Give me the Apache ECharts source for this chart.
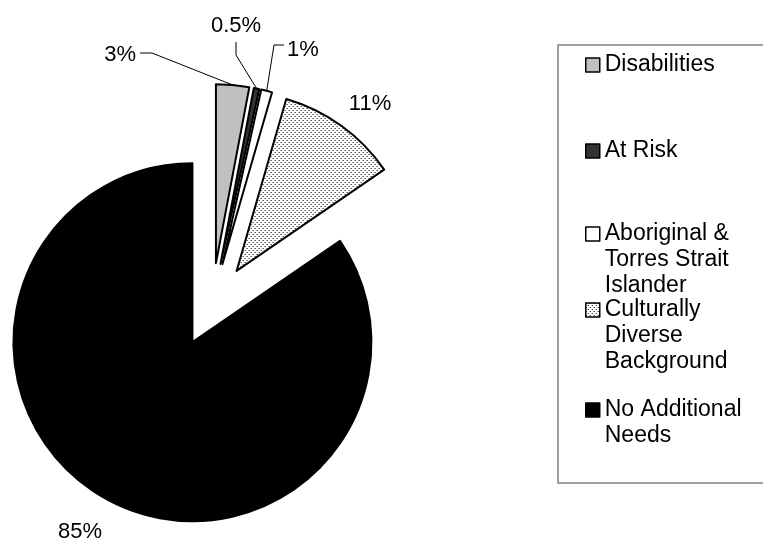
<!DOCTYPE html>
<html>
<head>
<meta charset="utf-8">
<script src="https://cdn.jsdelivr.net/npm/echarts@6/dist/echarts.min.js"></script>
<style>
html,body{margin:0;padding:0;background:#fff;}
#chart{width:763px;height:543px;}
</style>
</head>
<body>
<div id="chart"></div>
<script>
// ---- data ----
const categories = ['Disabilities', 'At Risk', 'Aboriginal & Torres Strait Islander', 'Culturally Diverse Background', 'No Additional Needs'];
const legendLines = [['Disabilities'], ['At Risk'], ['Aboriginal &', 'Torres Strait', 'Islander'], ['Culturally', 'Diverse', 'Background'], ['No Additional', 'Needs']];
const values = [3, 0.5, 1, 11, 85];

// ---- styling / layout ----
function dotPattern() {
  const c = document.createElement('canvas');
  c.width = 4; c.height = 4;
  const g = c.getContext('2d');
  g.fillStyle = '#ffffff'; g.fillRect(0, 0, 4, 4);
  g.fillStyle = '#000000';
  g.fillRect(0, 0, 1, 1); g.fillRect(2, 2, 1, 1);
  return c;
}
const fills = ['#c0c0c0', '#333333', '#ffffff', { image: dotPattern(), repeat: 'repeat' }, '#000000'];
const labelAnchors = [
  { x: 136, y: 55, align: 'right', bend: [152, 53], end: [140, 53] },
  { x: 236, y: 26, align: 'center', bend: [236, 55], end: [236, 42] },
  { x: 287, y: 50, align: 'left', bend: [274, 45], end: [284, 45] },
  { x: 370, y: 104, align: 'center' },
  { x: 80, y: 532, align: 'center' }
];
const legendIconCenters = [65, 151, 234, 310, 410];
const LH = 26;
const FONT = '"Liberation Sans", Arial, sans-serif';
const PIE_CENTER = [212, 305];
const PIE_R = 179;
const EXPLODE = 42;

const chart = echarts.init(document.getElementById('chart'), null, { renderer: 'canvas' });

const pieData = categories.map((name, i) => ({
  name: name,
  value: values[i],
  selected: true,
  itemStyle: { color: fills[i] },
  select: { itemStyle: { color: fills[i], borderColor: '#000', borderWidth: 2 } }
}));

const labelData = categories.map((name, i) => ({
  name: name,
  value: values[i],
  labelLine: { show: !!labelAnchors[i].bend }
}));

const legends = categories.map((name, i) => {
  const n = legendLines[i].length;
  const top = legendIconCenters[i] - (2 * n - 1) * LH / 2;
  return {
    orient: 'vertical',
    left: 585,
    top: top,
    padding: 0,
    itemGap: 0,
    itemWidth: 14,
    itemHeight: 14,
    icon: 'rect',
    selectedMode: false,
    itemStyle: { borderColor: '#000', borderWidth: 1.5 },
    data: [name],
    formatter: function (nm) {
      const lines = legendLines[categories.indexOf(nm)];
      return '\n'.repeat(lines.length - 1) + lines.join('\n');
    },
    textStyle: { fontSize: 23, lineHeight: LH, color: '#000', fontFamily: FONT }
  };
});

chart.setOption({
  animation: false,
  backgroundColor: '#ffffff',
  legend: legends,
  graphic: [{
    type: 'rect',
    shape: { x: 558, y: 45, width: 220, height: 438 },
    style: { fill: 'none', stroke: '#808080', lineWidth: 1.5 },
    silent: true
  }],
  series: [{
    type: 'pie',
    center: PIE_CENTER,
    radius: [0, PIE_R],
    startAngle: 90,
    clockwise: true,
    selectedMode: 'multiple',
    selectedOffset: EXPLODE,
    emphasis: { disabled: true },
    itemStyle: { borderColor: '#000', borderWidth: 2 },
    label: { show: false },
    labelLine: { show: false },
    data: pieData
  }, {
    // carries the percentage labels, positioned at the exploded outer arc
    type: 'pie',
    center: PIE_CENTER,
    radius: [0, PIE_R + EXPLODE],
    startAngle: 90,
    clockwise: true,
    silent: true,
    z: 1,
    avoidLabelOverlap: false,
    emphasis: { disabled: true },
    itemStyle: { color: 'rgba(0,0,0,0)', borderWidth: 0 },
    label: {
      show: true,
      formatter: '{c}%',
      fontSize: 22,
      color: '#000',
      fontFamily: FONT,
      position: 'outside'
    },
    labelLine: { show: true, lineStyle: { color: '#000', width: 1 }, length: 10, length2: 10 },
    labelLayout: function (p) {
      const a = labelAnchors[p.dataIndex];
      const res = { x: a.x, y: a.y, align: a.align, verticalAlign: 'middle' };
      if (a.bend && p.labelLinePoints) {
        res.labelLinePoints = [p.labelLinePoints[0], a.bend, a.end];
      }
      return res;
    },
    data: labelData
  }]
});
</script>
</body>
</html>
